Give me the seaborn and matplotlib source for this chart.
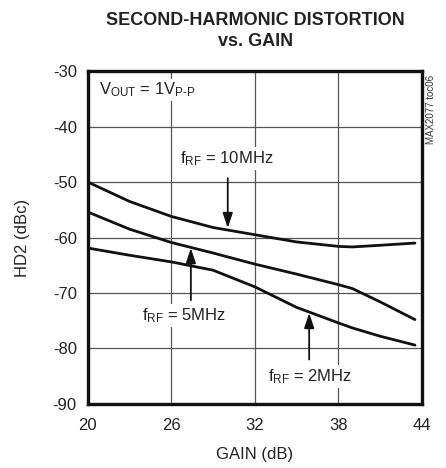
import pandas as pd
import matplotlib
matplotlib.use("Agg")
import matplotlib.pyplot as plt
import seaborn as sns

# ---- data ----
gain = [20, 23, 26, 29, 32, 35, 38, 39, 41, 43.5]
hd2_10mhz = [-50.0, -53.5, -56.2, -58.2, -59.5, -60.8, -61.6, -61.7, -61.4, -61.0]
hd2_5mhz = [-55.4, -58.5, -60.9, -62.8, -64.8, -66.6, -68.5, -69.2, -71.6, -74.8]
hd2_2mhz = [-61.9, -63.2, -64.4, -65.9, -68.9, -72.6, -75.4, -76.3, -77.8, -79.4]

x_ticks = [20, 26, 32, 38, 44]
y_ticks = [-90, -80, -70, -60, -50, -40, -30]

df = pd.DataFrame({
    "gain": gain * 3,
    "hd2": hd2_10mhz + hd2_5mhz + hd2_2mhz,
    "freq": ["10MHz"] * len(gain) + ["5MHz"] * len(gain) + ["2MHz"] * len(gain),
})

sns.set_style("white")
plt.rcParams["font.family"] = ["Liberation Sans", "DejaVu Sans"]
plt.rcParams["axes.unicode_minus"] = False
plt.rcParams["mathtext.fontset"] = "custom"
plt.rcParams["mathtext.rm"] = "Liberation Sans"
plt.rcParams["mathtext.it"] = "Liberation Sans"

fig = plt.figure(figsize=(4.46, 4.68), dpi=100)
ax = fig.add_axes([0.197, 0.137, 0.749, 0.711])

sns.lineplot(data=df, x="gain", y="hd2", hue="freq",
             palette=["#111111"] * 3, linewidth=2.0, legend=False, ax=ax,
             sort=True, estimator=None, zorder=3)

ax.set_xlim(20, 44)
ax.set_ylim(-90, -30)
ax.set_xticks(x_ticks)
ax.set_yticks(y_ticks)
ax.tick_params(axis="x", labelsize=12, length=0, pad=10, colors="#222222")
ax.tick_params(axis="y", labelsize=12, length=0, pad=8, colors="#222222")
ax.grid(True, color="#555555", linewidth=0.9, zorder=1)
for sp in ax.spines.values():
    sp.set_linewidth(2.4)
    sp.set_color("#111111")
    sp.set_zorder(5)

ax.set_xlabel("GAIN (dB)", fontsize=12, color="#222222", labelpad=10)
ax.set_ylabel("HD2 (dBc)", fontsize=12, color="#222222", labelpad=16)

fig.text(0.572, 0.975, "SECOND-HARMONIC DISTORTION\nvs. GAIN", ha="center", va="top",
         fontsize=13, fontweight="bold", color="#222222", linespacing=1.35)

box = dict(facecolor="white", edgecolor="none", pad=1.5)
ax.text(20.8, -33.4, r"V$_{\mathrm{OUT}}$ = 1V$_{\mathrm{P\text{-}P}}$", fontsize=12,
        va="center", ha="left", bbox=box, zorder=4, color="#222222")
ax.text(30.0, -45.7, r"f$_{\mathrm{RF}}$ = 10MHz", fontsize=12, va="center", ha="center",
        bbox=box, zorder=4, color="#222222")
ax.text(26.9, -74.0, r"f$_{\mathrm{RF}}$ = 5MHz", fontsize=12, va="center", ha="center",
        bbox=box, zorder=4, color="#222222")
ax.text(36.0, -85.1, r"f$_{\mathrm{RF}}$ = 2MHz", fontsize=12, va="center", ha="center",
        bbox=box, zorder=4, color="#222222")

arrow = dict(arrowstyle="-|>,head_length=0.9,head_width=0.3", color="#111111", lw=1.3,
             shrinkA=0, shrinkB=0)
ax.annotate("", xy=(30.05, -58.3), xytext=(30.05, -49.3), arrowprops=arrow, zorder=4)
ax.annotate("", xy=(27.4, -61.9), xytext=(27.4, -71.3), arrowprops=arrow, zorder=4)
ax.annotate("", xy=(35.9, -73.6), xytext=(35.9, -82.0), arrowprops=arrow, zorder=4)

fig.text(0.966, 0.84, "MAX2077 toc06", rotation=90, ha="center", va="top",
         fontsize=7, color="#333333")

fig.savefig("out.png", dpi=100)
